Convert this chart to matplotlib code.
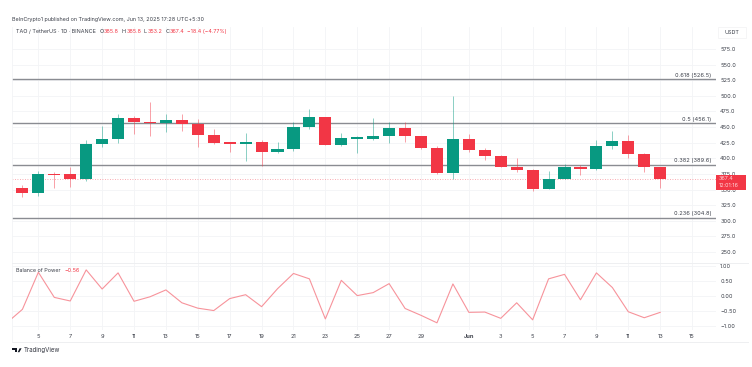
import matplotlib
matplotlib.use('Agg')
import matplotlib.pyplot as plt
from matplotlib.patches import Circle, Polygon, Rectangle
import numpy as np

plt.rcParams['font.family'] = ['Inter', 'DejaVu Sans']

W, H = 752, 367
RED = '#F23645'
GREEN = '#089981'
GRID = '#F3F4F6'
TEXT = '#3c404a'

# daily candles, May 4 to Jun 13
opens = [353.0, 344.0, 375.4, 374.3, 367.4, 423.4, 430.4, 464.5, 458.7, 456.0, 461.9, 455.5, 436.8, 425.6,
         423.4, 425.6, 410.6, 415.4, 449.6, 466.7, 420.8, 431.4, 431.4, 435.2, 448.0, 435.2, 416.5, 377.0,
         430.4, 413.3, 403.7, 386.1, 381.3, 350.9, 366.9, 385.5, 382.9, 419.7, 427.7, 407.0, 385.8]
highs = [357.3, 379.7, 378.1, 386.6, 429.3, 451.7, 470.4, 468.3, 489.6, 471.0, 471.0, 462.4, 446.4, 426.6,
         440.0, 429.3, 425.6, 457.6, 478.4, 466.7, 441.0, 435.7, 464.0, 458.7, 457.6, 435.2, 419.7, 500.3,
         438.9, 416.0, 404.8, 400.0, 382.9, 379.7, 390.9, 389.3, 429.3, 443.7, 437.3, 409.0, 385.8]
lows = [338.6, 340.2, 351.9, 353.5, 364.2, 417.6, 425.0, 438.9, 435.7, 441.6, 443.7, 417.6, 423.4, 410.1,
        396.2, 387.7, 409.0, 411.2, 446.9, 420.8, 419.7, 409.0, 429.3, 425.0, 426.6, 415.4, 375.4, 366.3,
        410.1, 397.3, 386.1, 377.5, 348.2, 350.9, 366.3, 373.3, 381.3, 415.4, 400.0, 378.1, 353.2]
closes = [344.0, 374.9, 373.3, 367.4, 423.4, 430.4, 464.5, 458.1, 456.0, 461.9, 455.5, 436.8, 425.0, 423.4,
          425.6, 410.6, 415.4, 449.6, 466.7, 420.8, 432.0, 433.6, 435.2, 448.0, 435.2, 416.0, 377.0, 430.4,
          413.8, 403.7, 386.6, 381.3, 350.9, 366.9, 385.5, 382.9, 419.7, 427.7, 407.0, 385.5, 367.4]

# Balance of Power, May 3 to Jun 13
bop = [-0.92, -0.46, 0.78, -0.06, -0.18, 0.86, 0.22, 0.76, -0.19, -0.04, 0.19, -0.24, -0.42, -0.50, -0.10,
       0.03, -0.37, 0.23, 0.74, 0.56, -0.78, 0.51, 0.00, 0.10, 0.40, -0.43, -0.66, -0.91, 0.39, -0.56,
       -0.55, -0.76, -0.24, -0.81, 0.56, 0.71, -0.14, 0.76, 0.27, -0.54, -0.74, -0.56]

fib_levels = [526.5, 456.1, 389.6, 304.8]
fib_labels = ['0.618 (526.5)', '0.5 (456.1)', '0.382 (389.6)', '0.236 (304.8)']
price_ticks = [250, 275, 300, 325, 350, 375, 400, 425, 450, 475, 500, 525, 550, 575]
bop_ticks = [-1.0, -0.5, 0.0, 0.5, 1.0]
date_ticks = [1, 3, 5, 7, 9, 11, 13, 15, 17, 19, 21, 23, 25, 28, 30, 32, 34, 36, 38, 40, 42]
date_labels = ['5', '7', '9', '11', '13', '15', '17', '19', '21', '23', '25', '27', '29',
               'Jun', '3', '5', '7', '9', '11', '13', '15']
last_price = 367.4


def box(x0, y0, x1, y1):
    # pixel box (y from top) to figure fractions
    return [x0 / W, 1 - y1 / H, (x1 - x0) / W, (y1 - y0) / H]


fig = plt.figure(figsize=(W / 100, H / 100), dpi=100)
ax = fig.add_axes(box(12, 27, 716, 263))
ax2 = fig.add_axes(box(12, 263, 716, 330), sharex=ax)

days = np.arange(len(opens))
colors = [GREEN if c >= o else RED for o, c in zip(opens, closes)]
ax.vlines(days, lows, highs, colors=colors, lw=0.6, alpha=0.55, zorder=3)
ax.bar(days, np.array(closes) - np.array(opens), bottom=opens, width=0.76, color=colors,
       edgecolor='none', zorder=4)

for lev, lab in zip(fib_levels, fib_labels):
    ax.axhline(lev, color='#8a8c92', lw=1.0, zorder=2)
    ax.text(43.2, lev + 2.5, lab, ha='right', va='bottom', fontsize=4.05, color=TEXT)

ax.axhline(last_price, color=RED, lw=0.6, ls=(0, (1, 2)), alpha=0.55, zorder=2)

ax.set_xlim(-0.653, 43.5)
ax.set_ylim(232.4, 610.2)
ax.set_yticks(price_ticks)
ax.set_yticklabels(['%.1f' % p for p in price_ticks])

ax2.plot(np.arange(-1, len(opens)), bop, color='#F7939B', lw=0.8, zorder=3)
ax2.set_ylim(-1.15, 1.09)
ax2.set_yticks(bop_ticks)
ax2.set_yticklabels(['%.2f' % v if v >= 0 else '\u2212%.2f' % abs(v) for v in bop_ticks])
ax2.set_xticks(date_ticks)
ax2.set_xticklabels(date_labels)

for a in (ax, ax2):
    a.grid(True, color=GRID, lw=0.6)
    a.set_axisbelow(True)
    a.yaxis.tick_right()
    a.tick_params(axis='both', length=0, labelsize=4.05, labelcolor=TEXT, pad=3)
    for s in a.spines.values():
        s.set_visible(False)
    a.spines['left'].set_visible(True)
    a.spines['left'].set_color(GRID)
    a.spines['left'].set_linewidth(0.6)
ax.tick_params(axis='x', labelbottom=False)
ax2.get_xticklabels()[13].set_fontweight('bold')

# pane separator, top and bottom rules
for y in (263, 342):
    fig.add_artist(plt.Line2D([12 / W, 748 / W], [1 - y / H] * 2, color='#eeeff1', lw=0.7))
fig.add_artist(plt.Line2D([12 / W, 12 / W], [1 - 330 / H, 1 - 342 / H], color=GRID, lw=0.6))


def ftext(x, y, s, **kw):
    kw.setdefault('fontsize', 3.9)
    kw.setdefault('color', TEXT)
    kw.setdefault('va', 'center')
    fig.text(x / W, 1 - y / H, s, **kw)


ftext(12, 19, 'BeInCrypto1 published on TradingView.com, Jun 13, 2025 17:28 UTC+5:30', fontsize=3.95)
ftext(16, 31.5, 'TAO / TetherUS \u00b7 1D \u00b7 BINANCE')
ohlc_parts = [(99.5, 'O', TEXT), (104, '385.8', RED), (122, 'H', TEXT), (127, '385.8', RED),
              (144, 'L', TEXT), (148, '353.2', RED), (166, 'C', TEXT), (170, '367.4', RED),
              (187, '\u221218.4 (\u22124.77%)', RED)]
for x, s, c in ohlc_parts:
    ftext(x, 31.5, s, color=c)
ftext(16, 271, 'Balance of Power', color=TEXT)
ftext(64, 271, '\u22120.56', color=RED)

# currency label
fig.add_artist(Rectangle((718 / W, 1 - 37.5 / H), 28 / W, 11 / H, transform=fig.transFigure,
                         facecolor='white', edgecolor='#f2f2f3', lw=0.5))
ftext(732, 32, 'USDT', ha='center')

# last price label
fig.add_artist(Rectangle((716 / W, 1 - 189.5 / H), 30 / W, 14.5 / H, transform=fig.transFigure,
                         facecolor=RED, edgecolor='none', zorder=5))
ftext(719, 179, '367.4', color='#ffd5d9', zorder=6)
ftext(719, 185.3, '12:01:16', color='#ffd5d9', zorder=6)

# TradingView logo
logo = [[(12.3, 348.3), (17.2, 348.3), (17.2, 352.2), (14.9, 352.2), (14.9, 350), (12.3, 350)],
        [(19.6, 348.3), (21.6, 348.3), (19.4, 352.2), (17.7, 352.2)]]
for pts in logo:
    fig.add_artist(Polygon([(x / W, 1 - y / H) for x, y in pts], closed=True,
                           transform=fig.transFigure, facecolor='#131722', edgecolor='none'))
ftext(23.3, 350.3, 'TradingView', fontsize=4.4, color='#333640')

fig.savefig('out.png', dpi=100)
